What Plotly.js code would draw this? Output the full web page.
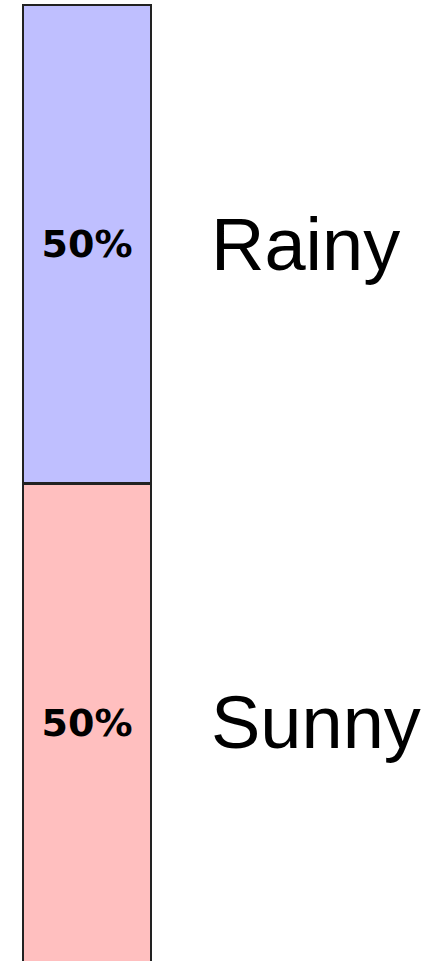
<!DOCTYPE html>
<html>
<head>
<meta charset="utf-8">
<script src="https://cdn.plot.ly/plotly-3.0.1.min.js"></script>
<style>html,body{margin:0;padding:0;background:#fff;}#chart{width:432px;height:961px;}</style>
</head>
<body>
<div id="chart"></div>
<script>
var categories = ["Sunny", "Rainy"];
var values = [50, 50];
var labels = ["50%", "50%"];
var colors = ["#ffbfbf", "#bfbfff"];

var traces = categories.map(function (c, i) {
  return {
    type: "bar",
    name: c,
    x: [""],
    y: [values[i]],
    text: [labels[i]],
    textposition: "inside",
    insidetextanchor: "middle",
    constraintext: "none",
    textfont: { family: "DejaVu Sans, Verdana, sans-serif", size: 38, color: "#000", weight: "bold" },
    marker: { color: colors[i], line: { color: "#222", width: 2.5 } },
    hoverinfo: "none"
  };
});

var cum = 0;
var annotations = categories.map(function (c, i) {
  var mid = cum + values[i] / 2;
  cum += values[i];
  return {
    text: c,
    xref: "paper", yref: "y",
    x: 209 / 432, y: mid,
    xanchor: "left", yanchor: "middle",
    showarrow: false,
    font: { family: "Liberation Sans, Arial, sans-serif", size: 74, color: "#000" }
  };
});

var layout = {
  width: 432, height: 961,
  margin: { l: 0, r: 0, t: 0, b: 0 },
  paper_bgcolor: "#fff", plot_bgcolor: "#fff",
  barmode: "stack", bargap: 0,
  showlegend: false,
  xaxis: { domain: [16.6 / 432, 157.4 / 432], range: [-0.55, 0.55], visible: false, fixedrange: true },
  yaxis: { range: [0.1045, 100.52], visible: false, fixedrange: true },
  annotations: annotations
};

Plotly.newPlot("chart", traces, layout, { staticPlot: true, displayModeBar: false });
</script>
</body>
</html>
